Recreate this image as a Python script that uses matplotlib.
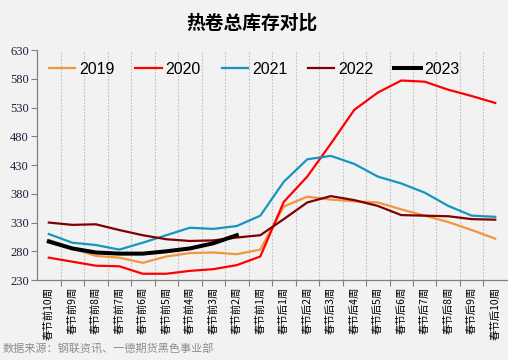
import matplotlib
matplotlib.use("Agg")
import matplotlib.pyplot as plt
import numpy as np

plt.rcParams['font.family'] = ['Noto Sans CJK SC', 'DejaVu Sans']

categories = ["春节前10周", "春节前9周", "春节前8周", "春节前7周", "春节前6周",
              "春节前5周", "春节前4周", "春节前3周", "春节前2周", "春节前1周",
              "春节后1周", "春节后2周", "春节后3周", "春节后4周", "春节后5周",
              "春节后6周", "春节后7周", "春节后8周", "春节后9周", "春节后10周"]

y2019 = [300, 285, 272, 269, 260, 271, 277, 278, 275, 283,
         358, 375, 370, 367, 365, 353, 342, 331, 317, 302]
y2020 = [269, 262, 255, 254, 241, 241, 246, 249, 256, 271,
         366, 410, 467, 526, 556, 577, 575, 561, 550, 538]
y2021 = [310, 295, 291, 283, 295, 308, 321, 319, 324, 342,
         401, 440, 446, 432, 410, 398, 382, 359, 342, 340]
y2022 = [330, 326, 327, 317, 308, 301, 298, 299, 304, 308,
         336, 365, 376, 369, 359, 343, 342, 341, 336, 335]
y2023 = [297, 285, 278, 276, 276, 280, 285, 294, 308]

yticks = [230, 280, 330, 380, 430, 480, 530, 580, 630]

bg = '#f2f2f2'
fig = plt.figure(figsize=(5.08, 3.60), dpi=100, facecolor=bg)
ax = fig.add_axes([0.073, 0.222, 0.925, 0.639], facecolor=bg)

x = np.arange(len(categories))
series = [("2019", y2019, '#F0963C', 1.6),
          ("2020", y2020, '#FF0000', 1.6),
          ("2021", y2021, '#1496BE', 1.6),
          ("2022", y2022, '#800000', 1.6),
          ("2023", y2023, '#000000', 2.9)]
for name, vals, col, lw in series:
    ax.plot(x[:len(vals)], vals, color=col, lw=lw, label=name, solid_joinstyle='round')

ax.set_xlim(-0.5, len(categories) - 0.5)
ax.set_ylim(230, 630)
ax.set_yticks(yticks)
ax.set_yticklabels([str(v) for v in yticks], family='Liberation Serif', fontsize=9, color='#1f1f3f')
ax.set_xticks(x)
ax.set_xticklabels(categories, rotation=90, fontsize=7.5, va='top', ha='center')
ax.set_xticks(np.arange(0.5, len(categories) - 1, 1.0), minor=True)
ax.tick_params(axis='x', which='major', length=0, pad=5)
ax.tick_params(axis='x', which='minor', length=4, color='#808080', width=0.8)
ax.tick_params(axis='y', length=4, color='#808080', width=0.8, pad=2)
ax.grid(axis='x', which='minor', color='#bfbfbf', linestyle=(0, (1.5, 1.5)), lw=0.8)
for s in ['top', 'right']:
    ax.spines[s].set_visible(False)
for s in ['left', 'bottom']:
    ax.spines[s].set_color('#808080')
    ax.spines[s].set_linewidth(0.9)

leg = ax.legend(loc='upper left', ncol=5, frameon=False,
                prop={'family': 'Liberation Sans', 'size': 11.5},
                bbox_to_anchor=(0.025, 0.948), handlelength=1.65, handletextpad=0.25,
                columnspacing=1.3, borderaxespad=0.0, borderpad=0.0)

fig.text(0.495, 0.937, "热卷总库存对比", ha='center', va='center', fontsize=13.5, fontweight='bold')
fig.text(0.006, 0.032, "数据来源：钢联资讯、一德期货黑色事业部", ha='left', va='center',
         fontsize=8, color='#8c8c8c')

fig.savefig("out.png", dpi=100, facecolor=bg)
